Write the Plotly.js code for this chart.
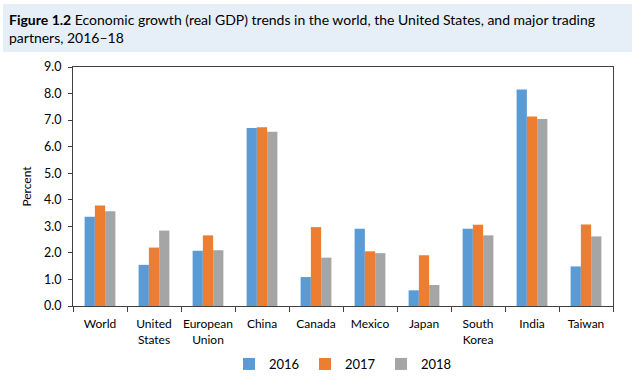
<!DOCTYPE html>
<html>
<head>
<meta charset="utf-8">
<script src="https://cdn.plot.ly/plotly-3.0.1.min.js"></script>
<style>html,body{margin:0;padding:0;background:#fff;}#chart{width:637px;height:379px;}</style>
</head>
<body>
<div id="chart"></div>
<script>
const categories = ["World", "United<br>States", "European<br>Union", "China", "Canada", "Mexico", "Japan", "South<br>Korea", "India", "Taiwan"];
const values2016 = [3.36, 1.55, 2.08, 6.70, 1.09, 2.91, 0.59, 2.91, 8.15, 1.49];
const values2017 = [3.78, 2.20, 2.66, 6.73, 2.97, 2.06, 1.91, 3.06, 7.14, 3.07];
const values2018 = [3.57, 2.84, 2.10, 6.56, 1.82, 1.99, 0.79, 2.66, 7.04, 2.62];
const seriesNames = ["2016", "2017", "2018"];
const colors = ["#5B9BD5", "#ED7D31", "#A5A5A5"];
const yTicks = [0, 1, 2, 3, 4, 5, 6, 7, 8, 9];

const FONT = "Lato, 'Noto Sans', sans-serif";
const series = [values2016, values2017, values2018];
const data = series.map((v, i) => ({
  type: "bar", x: categories, y: v, name: seriesNames[i],
  marker: {color: colors[i]}, hoverinfo: "skip"
}));

// plot area in px: x 73..613, y 67..306
const L = 73, R = 613, T = 67, B = 306, W = 637, H = 379;
const px = x => (x - L) / (R - L);
const py = y => (B - y) / (B - T);

const layout = {
  width: W, height: H,
  margin: {l: L, r: W - R, t: T, b: H - B, autoexpand: false},
  paper_bgcolor: "#fff", plot_bgcolor: "#fff",
  font: {family: FONT, size: 12, color: "#000"},
  barmode: "group", bargap: 0.43, bargroupgap: 0,
  showlegend: true,
  legend: {orientation: "h", x: 0.5, xanchor: "center", yref: "container", y: 0, yanchor: "bottom",
           font: {family: FONT, size: 13, color: "#000"}, entrywidth: 31, entrywidthmode: "pixels",
           itemwidth: 30, traceorder: "normal"},
  xaxis: {type: "category", showline: true, linecolor: "#404040", linewidth: 1, mirror: true,
          ticks: "outside", tickson: "boundaries", ticklen: 5, tickcolor: "#404040", tickangle: 0,
          ticklabelstandoff: 7,
          tickfont: {family: FONT, size: 12, color: "#000"}, showgrid: false, fixedrange: true},
  yaxis: {range: [0, 9], tickvals: yTicks, ticktext: yTicks.map(v => v.toFixed(1)),
          showline: true, linecolor: "#404040", linewidth: 1, mirror: true,
          ticks: "outside", ticklen: 4, tickcolor: "#404040", showgrid: false, zeroline: false,
          ticklabelstandoff: 4,
          tickfont: {family: FONT, size: 12.5, color: "#000"},
          title: {text: "Percent", font: {family: FONT, size: 12, color: "#000"}, standoff: 9}},
  shapes: [{type: "rect", xref: "paper", yref: "paper", x0: px(3), x1: px(632), y0: py(52), y1: py(4),
            fillcolor: "#E6EEF8", line: {width: 0}, layer: "below"}],
  annotations: [{xref: "paper", yref: "paper", x: px(7), y: py(9), xanchor: "left", yanchor: "top",
                 align: "left", showarrow: false,
                 text: "<b>Figure 1.2</b> Economic growth (real GDP) trends in the world, the United States, and major trading<br>partners, 2016–18",
                 font: {family: FONT, size: 14, color: "#000"}}]
};
Plotly.newPlot("chart", data, layout, {displayModeBar: false, staticPlot: true});
</script>
</body>
</html>
